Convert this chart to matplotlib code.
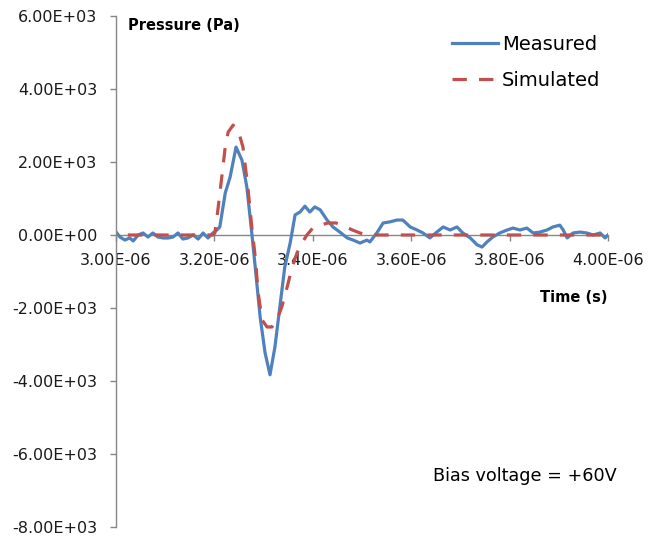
import numpy as np
import matplotlib
matplotlib.use("Agg")
import matplotlib.pyplot as plt
from matplotlib.ticker import FuncFormatter, MultipleLocator

# measured pressure trace (time in microseconds, pressure in Pa)
t_meas = [3.000, 3.008, 3.018, 3.028, 3.035, 3.045, 3.055, 3.065, 3.075, 3.085,
          3.096, 3.106, 3.116, 3.126, 3.136, 3.146, 3.157, 3.167, 3.177, 3.187,
          3.197, 3.205, 3.211, 3.222, 3.232, 3.244, 3.256, 3.266, 3.276, 3.283,
          3.293, 3.303, 3.313, 3.323, 3.333, 3.343, 3.354, 3.364, 3.374, 3.384,
          3.394, 3.404, 3.415, 3.429, 3.441, 3.455, 3.470, 3.482, 3.496, 3.510,
          3.516, 3.530, 3.543, 3.557, 3.571, 3.583, 3.598, 3.612, 3.624, 3.638,
          3.652, 3.665, 3.679, 3.693, 3.705, 3.720, 3.734, 3.744, 3.754, 3.766,
          3.780, 3.795, 3.807, 3.821, 3.835, 3.848, 3.862, 3.876, 3.888, 3.902,
          3.909, 3.917, 3.929, 3.943, 3.957, 3.970, 3.984, 3.994, 4.000, 4.008]
p_meas = [82, -55, -137, -82, -164, 0, 55, -55, 55, -55,
          -82, -82, -55, 55, -110, -82, 0, -110, 55, -82,
          55, 137, 220, 1150, 1590, 2410, 2050, 1310, 55, -880,
          -2250, -3230, -3830, -3070, -1970, -880, -220, 550, 630, 790,
          630, 770, 690, 410, 220, 80, -80, -140, -220, -140,
          -190, 55, 330, 360, 410, 410, 220, 137, 55, -80,
          80, 220, 137, 220, 55, -80, -270, -330, -190, -55,
          55, 137, 190, 137, 190, 55, 80, 137, 220, 270,
          137, -80, 55, 80, 55, 0, 55, -80, 0, 137]

# simulated pressure trace
t_sim = [3.024, 3.197, 3.201, 3.207, 3.215, 3.222, 3.228, 3.238, 3.248, 3.258,
         3.268, 3.276, 3.283, 3.289, 3.297, 3.307, 3.317, 3.327, 3.337, 3.348,
         3.358, 3.368, 3.378, 3.388, 3.400, 3.415, 3.431, 3.447, 3.463, 3.480,
         3.496, 3.512, 4.004]
p_sim = [0, 0, 55, 680, 1590, 2410, 2820, 3010, 2880, 2410,
         1310, 220, -600, -1590, -2330, -2520, -2520, -2330, -1970, -1420,
         -880, -490, -220, 0, 190, 270, 330, 330, 250, 140,
         55, 0, 0]

blue = "#4F81BD"
red = "#C0504D"
grey = "#868686"

fig = plt.figure(figsize=(6.52, 5.40), dpi=100)
ax = fig.add_axes([116 / 652, 1 - 527 / 540, 492 / 652, 511 / 540])

ax.plot(np.array(t_meas) * 1e-6, p_meas, color=blue, lw=2.3, label="Measured",
        solid_joinstyle="round")
ax.plot(np.array(t_sim) * 1e-6, p_sim, color=red, lw=2.3, label="Simulated",
        linestyle=(0, (4.5, 3.8)))

ax.set_xlim(3.0e-6, 4.0e-6)
ax.set_ylim(-8000, 6000)
ax.xaxis.set_major_locator(MultipleLocator(0.2e-6))
ax.yaxis.set_major_locator(MultipleLocator(2000))
fmt = FuncFormatter(lambda v, pos: f"{v:.2E}")
ax.xaxis.set_major_formatter(fmt)
ax.yaxis.set_major_formatter(fmt)

for s in ["top", "right"]:
    ax.spines[s].set_visible(False)
ax.spines["bottom"].set_position(("data", 0))
for s in ["left", "bottom"]:
    ax.spines[s].set_color(grey)
    ax.spines[s].set_linewidth(1.0)
ax.spines["bottom"].set_zorder(0.5)

ax.tick_params(axis="both", colors=grey, labelcolor="#1a1a1a", length=4.3,
               width=1.0, labelsize=11.5)
ax.tick_params(axis="y", pad=9)
ax.tick_params(axis="x", pad=9)

fig.text(128 / 652, 1 - 25 / 540, "Pressure (Pa)", fontsize=10.5,
         fontweight="bold", ha="left", va="center")
fig.text(608 / 652, 1 - 297 / 540, "Time (s)", fontsize=10.5,
         fontweight="bold", ha="right", va="center")
fig.text(617 / 652, 1 - 476 / 540, "Bias voltage = +60V", fontsize=12.7,
         ha="right", va="center")
fig.text(360 / 652, -10 / 540, "(a)", fontsize=12, ha="center", va="center")

ax.legend(loc="upper left", bbox_to_anchor=(452 / 652, 1 - 35 / 540),
          bbox_transform=fig.transFigure, frameon=False, fontsize=14,
          borderpad=0, borderaxespad=0, handlelength=2.37,
          handletextpad=0.2, labelspacing=0.85)

fig.savefig("out.png", dpi=100)
